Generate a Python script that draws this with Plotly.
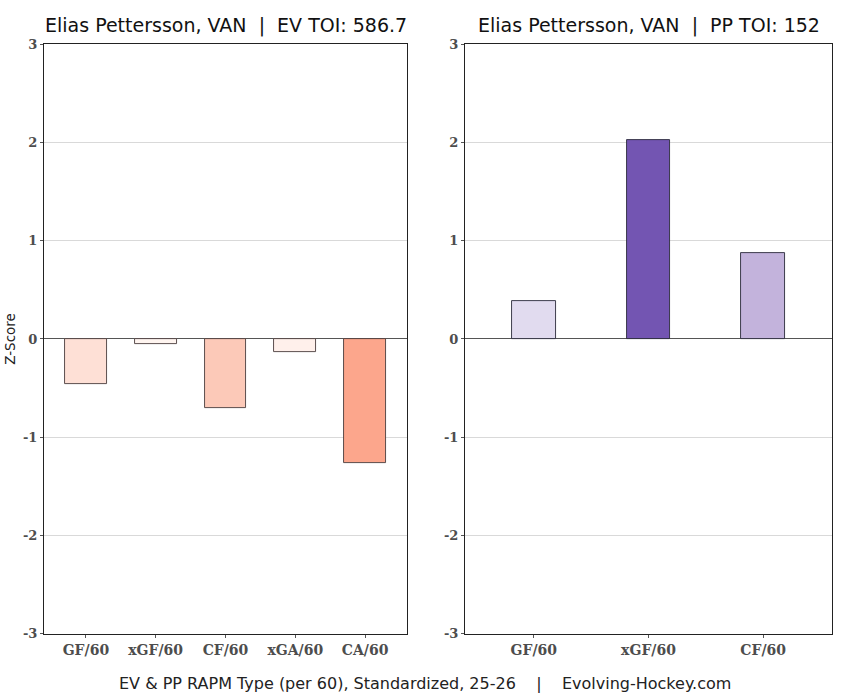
import plotly.graph_objects as go

ev_cats = ["GF/60", "xGF/60", "CF/60", "xGA/60", "CA/60"]
ev_vals = [-0.46, -0.05, -0.70, -0.13, -1.26]
ev_colors = ["#fee0d6", "#fff5f0", "#fcc9b8", "#fff0eb", "#fca68c"]

pp_cats = ["GF/60", "xGF/60", "CF/60"]
pp_vals = [0.39, 2.02, 0.87]
pp_colors = ["#e1dbef", "#7355b2", "#c3b3dc"]

y_ticks = [-3, -2, -1, 0, 1, 2, 3]

ev_title = "Elias Pettersson, VAN  |  EV TOI: 586.7"
pp_title = "Elias Pettersson, VAN  |  PP TOI: 152"
caption = "EV & PP RAPM Type (per 60), Standardized, 25-26    |    Evolving-Hockey.com"

W, H = 842, 693


def px(x):
    return x / W


def py(y):
    # compensate for the observed vertical mapping of the screenshot
    yy = (y - 7) / 0.977
    return 1 - yy / H


fig = go.Figure()
fig.add_trace(go.Bar(x=ev_cats, y=ev_vals, marker=dict(color=ev_colors, line=dict(color="#4a3c3c", width=0.9)),
                     width=0.6, xaxis="x", yaxis="y", showlegend=False))
fig.add_trace(go.Bar(x=pp_cats, y=pp_vals, marker=dict(color=pp_colors, line=dict(color="#2a2a3a", width=0.9)),
                     width=0.38, xaxis="x2", yaxis="y2", showlegend=False))

ydom = [py(633), py(44)]
tickfont = dict(family="DejaVu Serif", size=13, color="#4d4d4d", weight="bold")
common_y = dict(range=[-3, 3], tickvals=y_ticks, ticktext=[str(v) for v in y_ticks],
                showgrid=True, gridcolor="#d9d9d9", gridwidth=0.8, zeroline=True,
                zerolinecolor="#555555", zerolinewidth=1.2, showline=True, linecolor="#222222",
                linewidth=1, mirror=True, ticks="outside", ticklen=3, tickcolor="#555555",
                tickfont=tickfont, domain=ydom, fixedrange=True)
common_x = dict(type="category", showgrid=False, showline=True, linecolor="#222222", linewidth=1,
                mirror=True, ticks="outside", ticklen=3, tickcolor="#555555",
                tickfont=dict(family="DejaVu Serif", size=14, color="#4d4d4d", weight="bold"))

fig.update_layout(
    width=W, height=H, margin=dict(l=0, r=0, t=0, b=0),
    paper_bgcolor="white", plot_bgcolor="white", bargap=0,
    xaxis=dict(**common_x, domain=[px(44), px(407)], range=[-0.6, 4.6], anchor="y"),
    yaxis=dict(**common_y, anchor="x",
               title=dict(text="Z-Score", font=dict(family="DejaVu Sans", size=13.5, color="#222222"), standoff=4)),
    xaxis2=dict(**common_x, domain=[px(465), px(832)], range=[-0.6, 2.6], anchor="y2"),
    yaxis2=dict(**common_y, anchor="x2"),
    annotations=[
        dict(text=ev_title, x=px((44 + 407) / 2), y=py(25), xref="paper", yref="paper",
             showarrow=False, font=dict(family="DejaVu Sans", size=19, color="#111111"), xanchor="center", yanchor="middle"),
        dict(text=pp_title, x=px((465 + 832) / 2), y=py(25), xref="paper", yref="paper",
             showarrow=False, font=dict(family="DejaVu Sans", size=19, color="#111111"), xanchor="center", yanchor="middle"),
        dict(text=caption, x=px(425), y=py(683), xref="paper", yref="paper",
             showarrow=False, font=dict(family="DejaVu Sans", size=16, color="#222222"), xanchor="center", yanchor="middle"),
    ],
)
fig.write_html(
    "out.html",
    config={"displayModeBar": False},
    post_script="document.body.style.margin='0';document.body.style.overflow='hidden';"
                "document.documentElement.style.overflow='hidden';",
)
